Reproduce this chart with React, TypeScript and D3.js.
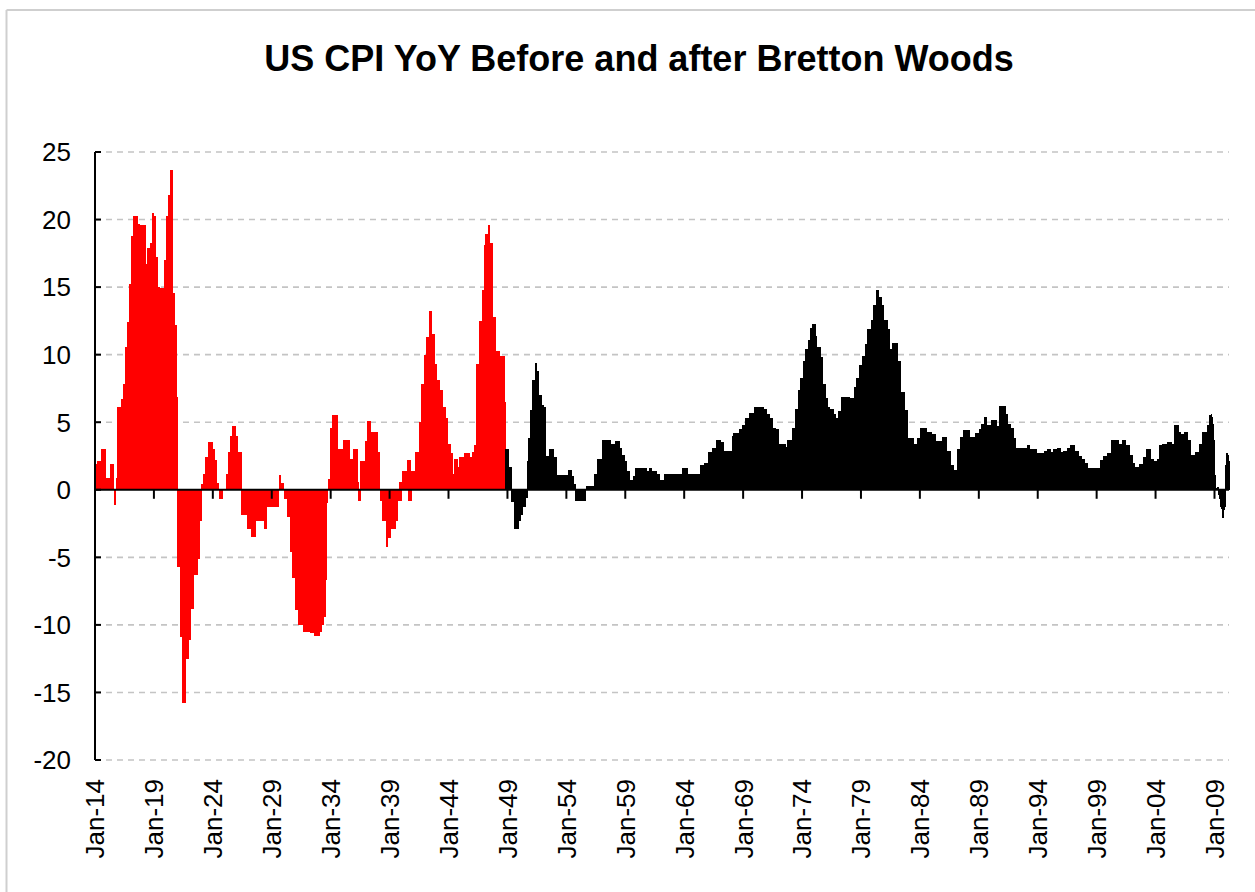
import React from "react";
import * as d3 from "d3";

// Monthly US CPI YoY (%), starting Jan 1914
const cpi1910s = [
  1.9, 1.9, 2.1, 2.1, 2.1, 2.1, 3.0, 3.0, 3.0, 3.0, 3.0, 0.9,
  0.9, 0.9, 0.9, 1.9, 1.9, 1.9, 1.9, -1.1, -1.1, 0.9, 6.1, 6.1,
  6.1, 6.1, 6.1, 6.7, 6.7, 7.8, 7.8, 10.6, 10.6, 12.4, 12.4, 15.2,
  15.2, 18.8, 18.8, 20.3, 20.3, 20.3, 20.3, 19.7, 19.7, 19.6, 19.6, 19.6,
  19.6, 19.6, 19.6, 16.7, 16.7, 17.9, 17.9, 17.9, 18.3, 18.3, 20.5, 20.5,
  20.3, 20.3, 17.2, 17.2, 15.0, 15.0, 14.9, 14.9, 14.9, 14.9, 17.0, 17.0,
];
const cpi1920s = [
  20.3, 20.3, 21.8, 21.8, 23.7, 23.7, 23.7, 14.6, 14.6, 12.2, 12.2, 6.9,
  -5.7, -5.7, -5.7, -10.9, -10.9, -15.8, -15.8, -15.8, -12.5, -12.5, -12.5, -11.1,
  -11.1, -8.8, -8.8, -8.8, -6.3, -6.3, -6.3, -6.3, -5.1, -5.1, -2.3, -2.3,
  0.4, 0.4, 1.2, 1.2, 2.4, 2.4, 2.4, 3.5, 3.5, 3.5, 3.5, 3.5,
  3.0, 3.0, 2.2, 2.2, 0.5, 0.5, -0.7, -0.7, -0.7, -0.7, 0.0, 0.0,
  0.0, 1.2, 1.2, 2.8, 2.8, 4.0, 4.0, 4.0, 4.7, 4.7, 4.7, 4.0,
  4.0, 2.8, 2.8, 2.8, 2.8, -1.9, -1.9, -1.9, -1.9, -1.9, -1.9, -2.9,
  -2.9, -2.9, -2.9, -3.5, -3.5, -3.5, -3.5, -2.3, -2.3, -2.3, -2.3, -2.3,
  -2.3, -2.3, -2.3, -2.3, -2.9, -2.9, -2.9, -1.3, -1.3, -1.3, -1.3, -1.3,
  -1.3, -1.3, -1.3, -1.3, -1.3, -1.3, -1.3, 1.1, 1.1, 0.5, 0.5, 0.5,
];
const cpi1930s = [
  -0.7, -0.7, -0.7, -0.7, -2.0, -2.0, -2.0, -4.6, -4.6, -6.5, -6.5, -6.5,
  -8.9, -8.9, -8.9, -10.0, -10.0, -10.0, -10.0, -9.7, -10.5, -10.5, -10.5, -10.5,
  -10.5, -10.5, -10.5, -10.6, -10.6, -10.6, -10.6, -10.8, -10.8, -10.8, -10.8, -10.8,
  -10.8, -10.5, -10.5, -10.0, -10.0, -9.4, -9.4, -6.7, -1.0, 0.8, 0.8, 4.6,
  4.6, 5.5, 5.5, 5.5, 5.5, 5.5, 5.5, 3.0, 3.0, 3.0, 3.0, 3.0,
  3.0, 3.7, 3.7, 3.7, 3.7, 3.7, 3.7, 2.3, 2.3, 2.3, 2.3, 3.0,
  3.0, 3.0, 3.0, 0.6, -0.8, -0.8, 2.1, 2.1, 2.1, 2.1, 2.1, 3.6,
  3.6, 5.1, 5.1, 5.1, 5.1, 4.3, 4.3, 4.3, 4.3, 4.3, 4.3, 4.3,
  2.8, 2.8, -0.8, -0.8, -2.3, -2.3, -2.3, -2.3, -4.2, -4.2, -3.6, -3.6,
  -3.6, -2.9, -2.9, -2.9, -2.9, -2.9, -2.3, -2.3, -0.8, -0.8, 0.6, -0.8,
];
const cpi1940s = [
  0.6, 1.4, 1.4, 1.4, 1.4, 1.4, 2.2, -0.8, 2.2, -0.8, 1.4, 1.4,
  1.4, 1.4, 2.8, 2.8, 2.8, 2.8, 5.0, 5.0, 7.8, 7.8, 7.8, 10.0,
  10.0, 11.3, 11.3, 11.3, 13.2, 13.2, 13.2, 11.5, 11.5, 11.5, 9.3, 9.3,
  8.1, 8.1, 8.1, 7.4, 7.4, 7.4, 6.1, 6.1, 6.1, 5.3, 5.3, 3.4,
  3.4, 3.4, 2.7, 2.7, 1.2, 1.2, 2.3, 2.3, 2.3, 1.7, 1.7, 2.4,
  2.4, 2.4, 2.4, 2.4, 2.7, 2.7, 2.7, 2.7, 2.7, 2.4, 2.4, 2.4,
  2.8, 2.8, 3.3, 3.3, 9.3, 9.3, 9.3, 12.5, 12.5, 12.5, 14.8, 14.8,
  18.1, 18.9, 18.9, 18.9, 19.6, 19.6, 18.3, 18.3, 18.3, 12.8, 12.8, 12.8,
  10.3, 10.3, 10.3, 10.3, 9.9, 9.9, 9.9, 9.9, 9.9, 6.5, 3.0, 3.0,
  3.0, 1.7, 1.7, 1.7, -0.9, -0.9, -0.9, -2.9, -2.9, -2.9, -2.9, -2.3,
];
const cpi1950s = [
  -2.3, -1.9, -1.9, -1.3, -1.3, -1.3, -0.6, -0.6, 2.1, 3.8, 3.8, 5.9,
  5.9, 8.1, 8.1, 8.1, 9.4, 9.4, 8.8, 8.8, 7.0, 7.0, 7.0, 6.3,
  6.3, 6.1, 6.1, 2.5, 2.5, 2.5, 3.0, 3.0, 3.0, 3.0, 3.0, 2.4,
  2.4, 2.4, 1.1, 1.1, 1.1, 1.1, 1.1, 1.1, 1.1, 1.1, 1.1, 1.1,
  1.1, 1.1, 1.5, 1.5, 1.5, 1.0, 1.0, 0.4, 0.4, -0.8, -0.8, -0.8,
  -0.8, -0.8, -0.8, -0.8, -0.8, -0.8, -0.8, -0.8, 0.3, 0.3, 0.3, 0.3,
  0.3, 0.3, 0.3, 0.3, 1.2, 1.2, 1.2, 2.3, 2.3, 2.3, 2.3, 2.3,
  3.7, 3.7, 3.7, 3.7, 3.7, 3.7, 3.7, 3.7, 3.7, 3.4, 3.4, 3.4,
  3.4, 3.6, 3.6, 3.6, 3.6, 3.6, 3.1, 3.1, 2.6, 2.6, 2.6, 2.1,
  2.1, 1.4, 1.4, 1.4, 0.7, 0.7, 0.7, 0.7, 1.0, 1.0, 1.6, 1.6,
];
const cpi1960s = [
  1.6, 1.6, 1.6, 1.6, 1.6, 1.6, 1.6, 1.6, 1.6, 1.6, 1.4, 1.4,
  1.6, 1.6, 1.6, 1.4, 1.4, 1.4, 1.4, 1.4, 1.2, 1.2, 1.2, 0.7,
  0.7, 0.7, 0.7, 1.2, 1.2, 1.2, 1.2, 1.2, 1.2, 1.2, 1.2, 1.2,
  1.2, 1.2, 1.2, 1.2, 1.2, 1.2, 1.2, 1.2, 1.2, 1.2, 1.6, 1.6,
  1.6, 1.6, 1.6, 1.2, 1.2, 1.2, 1.2, 1.2, 1.2, 1.2, 1.2, 1.2,
  1.2, 1.2, 1.2, 1.2, 1.8, 1.8, 1.8, 1.8, 2.0, 2.0, 2.0, 2.0,
  2.8, 2.8, 2.8, 2.8, 3.1, 3.1, 3.1, 3.1, 3.7, 3.7, 3.7, 3.7,
  3.7, 3.5, 3.5, 3.5, 2.9, 2.9, 2.9, 2.9, 2.9, 2.9, 2.9, 2.9,
  2.9, 4.0, 4.2, 4.2, 4.2, 4.2, 4.2, 4.2, 4.5, 4.5, 4.5, 4.8,
  4.8, 4.8, 5.3, 5.3, 5.3, 5.3, 5.7, 5.7, 5.7, 5.7, 5.7, 6.1,
];
const cpi1970s = [
  6.1, 6.1, 6.1, 6.1, 6.1, 6.1, 6.1, 6.1, 6.1, 6.0, 6.0, 6.0,
  5.6, 5.6, 5.6, 5.3, 5.3, 5.3, 4.6, 4.6, 4.6, 4.5, 4.5, 4.5,
  3.4, 3.4, 3.4, 3.4, 3.4, 3.4, 3.4, 3.2, 3.2, 3.7, 3.7, 3.7,
  3.7, 3.7, 4.6, 4.6, 4.6, 6.0, 6.0, 6.0, 7.4, 7.4, 8.3, 8.3,
  8.3, 9.5, 9.5, 10.4, 10.4, 10.4, 11.1, 11.1, 12.0, 12.0, 12.3, 12.3,
  12.3, 12.3, 11.4, 10.6, 10.6, 10.6, 10.6, 9.8, 9.8, 7.8, 7.8, 7.8,
  6.8, 6.8, 6.1, 6.1, 6.0, 6.0, 6.0, 6.0, 5.6, 5.6, 5.3, 5.3,
  5.3, 5.8, 5.8, 5.8, 6.9, 6.9, 6.9, 6.9, 6.9, 6.9, 6.9, 6.9,
  6.8, 6.8, 6.8, 6.8, 6.8, 7.6, 7.6, 8.3, 8.3, 8.3, 9.2, 9.2,
  9.2, 9.9, 9.9, 9.9, 10.8, 10.8, 11.9, 11.9, 11.9, 11.9, 12.6, 12.6,
];
const cpi1980s = [
  13.7, 13.7, 13.7, 14.8, 14.8, 14.8, 14.3, 14.3, 14.3, 13.7, 13.7, 12.6,
  12.6, 12.6, 12.6, 11.9, 11.9, 10.4, 10.4, 10.4, 10.9, 10.9, 10.9, 10.9,
  10.9, 9.5, 9.5, 9.5, 7.2, 7.2, 7.2, 7.2, 5.9, 5.9, 5.9, 3.8,
  3.8, 3.8, 3.8, 3.8, 3.8, 3.8, 3.4, 3.4, 3.4, 3.8, 3.8, 3.8,
  4.6, 4.6, 4.6, 4.6, 4.6, 4.6, 4.6, 4.3, 4.3, 4.3, 4.3, 4.3,
  4.1, 4.1, 4.1, 4.1, 3.6, 3.6, 3.6, 3.6, 3.6, 3.6, 3.6, 3.9,
  3.9, 3.9, 3.9, 2.9, 2.9, 2.9, 2.9, 1.8, 1.8, 1.8, 1.5, 1.5,
  1.5, 1.5, 3.0, 3.0, 3.0, 3.9, 3.9, 3.9, 4.4, 4.4, 4.4, 4.4,
  4.4, 4.4, 4.4, 3.9, 3.9, 3.9, 3.9, 3.9, 4.2, 4.2, 4.2, 4.2,
  4.5, 4.5, 4.9, 4.9, 4.9, 5.4, 5.4, 5.4, 4.8, 4.8, 4.8, 4.8,
];
const cpi1990s = [
  5.2, 5.2, 5.2, 5.2, 5.2, 5.2, 4.7, 4.7, 4.7, 6.2, 6.2, 6.2,
  6.2, 6.2, 6.2, 5.6, 5.6, 4.9, 4.9, 4.9, 4.6, 4.6, 4.6, 3.8,
  3.8, 3.1, 3.1, 3.1, 3.1, 3.1, 3.1, 3.1, 3.1, 3.1, 3.1, 3.1,
  3.1, 3.3, 3.3, 3.3, 3.0, 3.0, 3.0, 3.0, 3.0, 3.0, 3.0, 2.7,
  2.7, 2.7, 2.7, 2.7, 2.7, 2.7, 2.9, 2.9, 2.9, 3.0, 3.0, 3.0,
  3.0, 2.8, 2.8, 2.8, 3.0, 3.0, 3.0, 3.0, 3.1, 3.1, 3.1, 2.8,
  2.8, 2.8, 2.9, 2.9, 2.9, 2.9, 3.1, 3.1, 3.1, 3.3, 3.3, 3.3,
  3.3, 3.3, 2.9, 2.9, 2.9, 2.9, 2.5, 2.5, 2.5, 2.3, 2.3, 2.3,
  2.0, 2.0, 2.0, 1.6, 1.6, 1.6, 1.6, 1.6, 1.6, 1.6, 1.6, 1.6,
  1.6, 1.6, 1.6, 2.2, 2.2, 2.2, 2.2, 2.5, 2.5, 2.5, 2.5, 2.7,
];
const cpi2000s = [
  2.7, 2.7, 2.7, 3.7, 3.7, 3.7, 3.7, 3.7, 3.7, 3.7, 3.4, 3.4,
  3.4, 3.4, 3.7, 3.7, 3.7, 3.3, 3.3, 3.3, 3.3, 2.6, 2.6, 2.6,
  2.0, 2.0, 2.0, 1.7, 1.7, 1.7, 1.7, 1.9, 1.9, 1.9, 1.9, 2.4,
  2.4, 2.4, 3.0, 3.0, 3.0, 3.0, 3.0, 2.3, 2.3, 2.3, 2.1, 2.1,
  2.1, 2.1, 2.3, 2.3, 3.3, 3.3, 3.3, 3.4, 3.4, 3.4, 3.4, 3.4,
  3.5, 3.5, 3.5, 3.5, 3.4, 3.4, 3.4, 4.8, 4.8, 4.8, 4.8, 4.3,
  4.3, 4.1, 4.1, 4.1, 4.1, 4.3, 4.3, 4.3, 4.3, 3.7, 3.7, 3.7,
  2.6, 2.6, 2.6, 2.6, 2.8, 2.8, 2.8, 2.8, 3.4, 3.4, 3.4, 4.3,
  4.3, 4.3, 4.3, 4.3, 4.8, 4.8, 5.5, 5.5, 5.6, 5.4, 4.9, 3.7,
  1.1, 0.1, 0.0, 0.2, -0.4, -0.7, -1.3, -1.4, -2.1, -1.5, -1.3, 1.8,
];
const cpi2010s = [2.7, 2.6, 2.1];

const firstYear = 1914;
const splitYear = 1948; // bars before Nov 1948 are red
const splitMonth = 10;
const yTicks = [-20, -15, -10, -5, 0, 5, 10, 15, 20, 25];
const xTickYears = d3.range(1914, 2010, 5);
const chartTitle = "US CPI YoY Before and after Bretton Woods";

const FONT = "'Liberation Sans', Arial, Helvetica, sans-serif";

export default function App() {
  const W = 1255;
  const H = 892;
  const left = 95;
  const plotRight = 1229;

  const values = [
    ...cpi1910s, ...cpi1920s, ...cpi1930s, ...cpi1940s, ...cpi1950s,
    ...cpi1960s, ...cpi1970s, ...cpi1980s, ...cpi1990s, ...cpi2000s, ...cpi2010s,
  ];
  const split = new Date(splitYear, splitMonth, 1);
  const data = values.map((v, i) => ({
    date: new Date(firstYear, i, 1),
    next: new Date(firstYear, i + 1, 1),
    v,
  }));

  const x = d3
    .scaleTime()
    .domain([new Date(1914, 0, 1), new Date(2009, 0, 1)])
    .range([left, 1214.5]);
  const y = d3.scaleLinear().domain([-20, 25]).range([760, 152]);
  const fmt = d3.timeFormat("%b-%y");
  const y0 = y(0);

  return (
    <svg
      width={W}
      height={H}
      style={{ position: "absolute", left: 0, top: 0, display: "block", background: "#fff" }}
    >
      <rect x={0} y={0} width={W} height={H} fill="#fff" />
      {/* chart border */}
      <line x1={6.5} y1={10} x2={W} y2={10} stroke="#cfcfcf" strokeWidth={2} />
      <line x1={6.5} y1={10} x2={6.5} y2={H} stroke="#cfcfcf" strokeWidth={2} />

      <text
        x={639}
        y={71}
        textAnchor="middle"
        fontFamily={FONT}
        fontWeight="bold"
        fontSize={36}
        fill="#000"
      >
        {chartTitle}
      </text>

      {/* gridlines */}
      {yTicks
        .filter((t) => t !== 0)
        .map((t) => (
          <line
            key={"g" + t}
            x1={left}
            x2={plotRight}
            y1={y(t)}
            y2={y(t)}
            stroke="#c4c4c4"
            strokeWidth={1.6}
            strokeDasharray="6 5"
          />
        ))}

      {/* bars */}
      <g shapeRendering="crispEdges">
        {data.map((d, i) => {
          const xa = x(d.date);
          const xb = x(d.next);
          const yv = y(d.v);
          return (
            <rect
              key={i}
              x={xa}
              width={xb - xa + 0.5}
              y={Math.min(yv, y0)}
              height={Math.abs(yv - y0)}
              fill={d.date < split ? "#ff0000" : "#000000"}
            />
          );
        })}
      </g>

      {/* y axis */}
      <line x1={left} x2={left} y1={y(25)} y2={y(-20)} stroke="#000" strokeWidth={2} />
      {yTicks.map((t) => (
        <g key={"yt" + t}>
          <line x1={left} x2={left + 6} y1={y(t)} y2={y(t)} stroke="#000" strokeWidth={2} />
          <text
            x={71}
            y={y(t)}
            dy="0.36em"
            textAnchor="end"
            fontFamily={FONT}
            fontSize={26}
            fill="#000"
          >
            {t}
          </text>
        </g>
      ))}

      {/* x axis (zero line) */}
      <line x1={left} x2={plotRight} y1={y0} y2={y0} stroke="#000" strokeWidth={2} />
      {xTickYears.map((yr) => {
        const tx = x(new Date(yr, 0, 1));
        return (
          <g key={"xt" + yr}>
            <line x1={tx} x2={tx} y1={y0} y2={y0 + 9} stroke="#000" strokeWidth={2} />
            <text
              transform={`translate(${tx},779) rotate(-90)`}
              dy="0.36em"
              textAnchor="end"
              fontFamily={FONT}
              fontSize={26}
              fill="#000"
            >
              {fmt(new Date(yr, 0, 1))}
            </text>
          </g>
        );
      })}
    </svg>
  );
}
